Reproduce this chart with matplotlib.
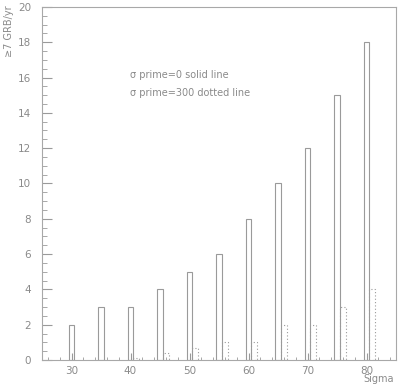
import matplotlib
matplotlib.use("Agg")
import matplotlib.pyplot as plt
from matplotlib.patches import Rectangle
from matplotlib.ticker import MultipleLocator

sigma = [30, 35, 40, 45, 50, 55, 60, 65, 70, 75, 80]
solid_vals = [2, 3, 3, 4, 5, 6, 8, 10, 12, 15, 18]
dotted_vals = [0.0, 0.0, 0.1, 0.4, 0.7, 1.0, 1.0, 2.0, 2.0, 3.0, 4.0]

grey = "#9a9a9a"
txt = "#8a8a8a"

fig = plt.figure(figsize=(4.0, 3.91), dpi=100)
ax = fig.add_axes([0.105, 0.0793, 0.885, 0.903])
ax.set_xlim(25, 85)
ax.set_ylim(0, 20)

for s, v in zip(sigma, solid_vals):
    if v > 0:
        ax.add_patch(Rectangle((s - 0.5, 0), 1.0, v, fill=False,
                               edgecolor=grey, linewidth=0.8))
for s, v in zip(sigma, dotted_vals):
    if v > 0:
        ax.add_patch(Rectangle((s + 0.5, 0), 1.0, v, fill=False,
                               edgecolor=grey, linewidth=0.8, linestyle=(0, (1, 2))))

ax.xaxis.set_major_locator(MultipleLocator(10))
ax.xaxis.set_minor_locator(MultipleLocator(2))
ax.yaxis.set_major_locator(MultipleLocator(2))
ax.yaxis.set_minor_locator(MultipleLocator(0.5))
ax.tick_params(which="both", direction="in", colors=grey, labelcolor=txt,
               labelsize=7.5, top=False, right=False)
ax.tick_params(axis="x", which="major", length=5, pad=4)
ax.tick_params(axis="x", which="minor", length=2.5)
ax.tick_params(axis="y", which="major", length=7, pad=8)
ax.tick_params(axis="y", which="minor", length=3.5)
for sp in ax.spines.values():
    sp.set_color("#a8a8a8")
    sp.set_linewidth(0.8)

ax.text(40, 16.15, "σ prime=0 solid line", color=txt, fontsize=7, va="center")
ax.text(40, 15.1, "σ prime=300 dotted line", color=txt, fontsize=7, va="center")

fig.text(0.022, 0.985, "≥7 GRB/yr", rotation=90, ha="center", va="top",
         color=txt, fontsize=7)
fig.text(0.985, 0.03, "Sigma", ha="right", va="center", color=txt, fontsize=7)

fig.savefig("out.png", dpi=100)
